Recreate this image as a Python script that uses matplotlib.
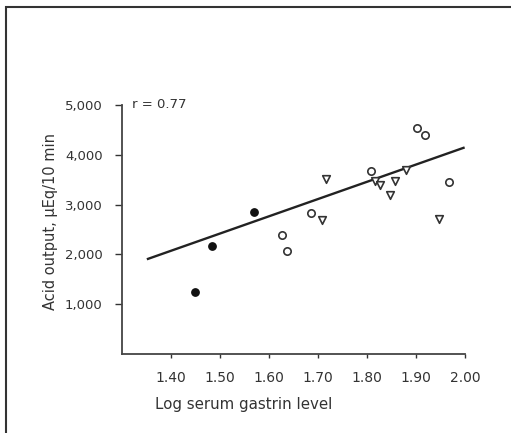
import numpy as np
import matplotlib
matplotlib.use("Agg")
import matplotlib.pyplot as plt
from matplotlib.patches import Rectangle

# filled circles
fill_x = [1.449, 1.483, 1.569]
fill_y = [1240, 2170, 2850]
# open circles
circ_x = [1.626, 1.637, 1.686, 1.808, 1.903, 1.918, 1.967]
circ_y = [2380, 2060, 2830, 3680, 4530, 4390, 3450]
# open triangles (down)
tri_x = [1.708, 1.717, 1.817, 1.827, 1.846, 1.858, 1.879, 1.946]
tri_y = [2700, 3510, 3480, 3400, 3200, 3470, 3700, 2710]
# regression line ends
line_x = [1.353, 1.997]
line_y = [1910, 4140]

xticks = [1.40, 1.50, 1.60, 1.70, 1.80, 1.90, 2.00]
xticklabels = ["1.40", "1.50", "1.60", "1.70", "1.80", "1.90", "2.00"]
yticks = [1000, 2000, 3000, 4000, 5000]
yticklabels = ["1,000", "2,000", "3,000", "4,000", "5,000"]

plt.rcParams['font.family'] = ['DejaVu Sans']
W, H = 511, 433
fig = plt.figure(figsize=(W / 100, H / 100), dpi=100)
fig.patch.set_facecolor("white")

# outer frame (left and top visible)
fig.patches.append(Rectangle((6 / W, -0.05), 1.2, 1 - 7 / H + 0.05, transform=fig.transFigure,
                             fill=False, edgecolor="#333333", linewidth=1.5))

ax = fig.add_axes([122 / W, 1 - 354 / H, (465 - 122) / W, (354 - 105) / H])
ax.set_xlim(1.30, 2.00)
ax.set_ylim(0, 5000)
ax.spines['top'].set_visible(False)
ax.spines['right'].set_visible(False)
for s in ['left', 'bottom']:
    ax.spines[s].set_color("#444444")
    ax.spines[s].set_linewidth(1.3)

ax.plot(line_x, line_y, color="#222222", linewidth=1.7)
ax.scatter(fill_x, fill_y, s=28, color="#111111", zorder=3)
ax.scatter(circ_x, circ_y, s=28, facecolor="white", edgecolor="#333333", linewidth=1.2, zorder=3)
ax.scatter(tri_x, tri_y, s=30, marker="v", facecolor="white", edgecolor="#333333", linewidth=1.2, zorder=3)

ax.set_xticks(xticks)
ax.set_xticklabels(xticklabels)
ax.set_yticks(yticks)
ax.set_yticklabels(yticklabels)
ax.tick_params(axis='x', direction='out', length=3, width=1, pad=9, labelsize=10,
               colors="#333333")
ax.tick_params(axis='y', direction='out', length=5, width=1, pad=9, labelsize=9.5,
               colors="#333333")

ax.text(0.03, 5000, "r = 0.77", transform=ax.get_yaxis_transform(), fontsize=9.5,
        color="#333333", va="center", ha="left")
fig.text(51 / W, 1 - 221 / H, "Acid output, μEq/10 min", rotation=90, fontsize=10.5,
         color="#333333", ha="center", va="center")
fig.text(155 / W, 1 - 405 / H, "Log serum gastrin level", fontsize=10.8,
         color="#333333", ha="left", va="center")

fig.savefig("out.png", dpi=100, facecolor="white")
